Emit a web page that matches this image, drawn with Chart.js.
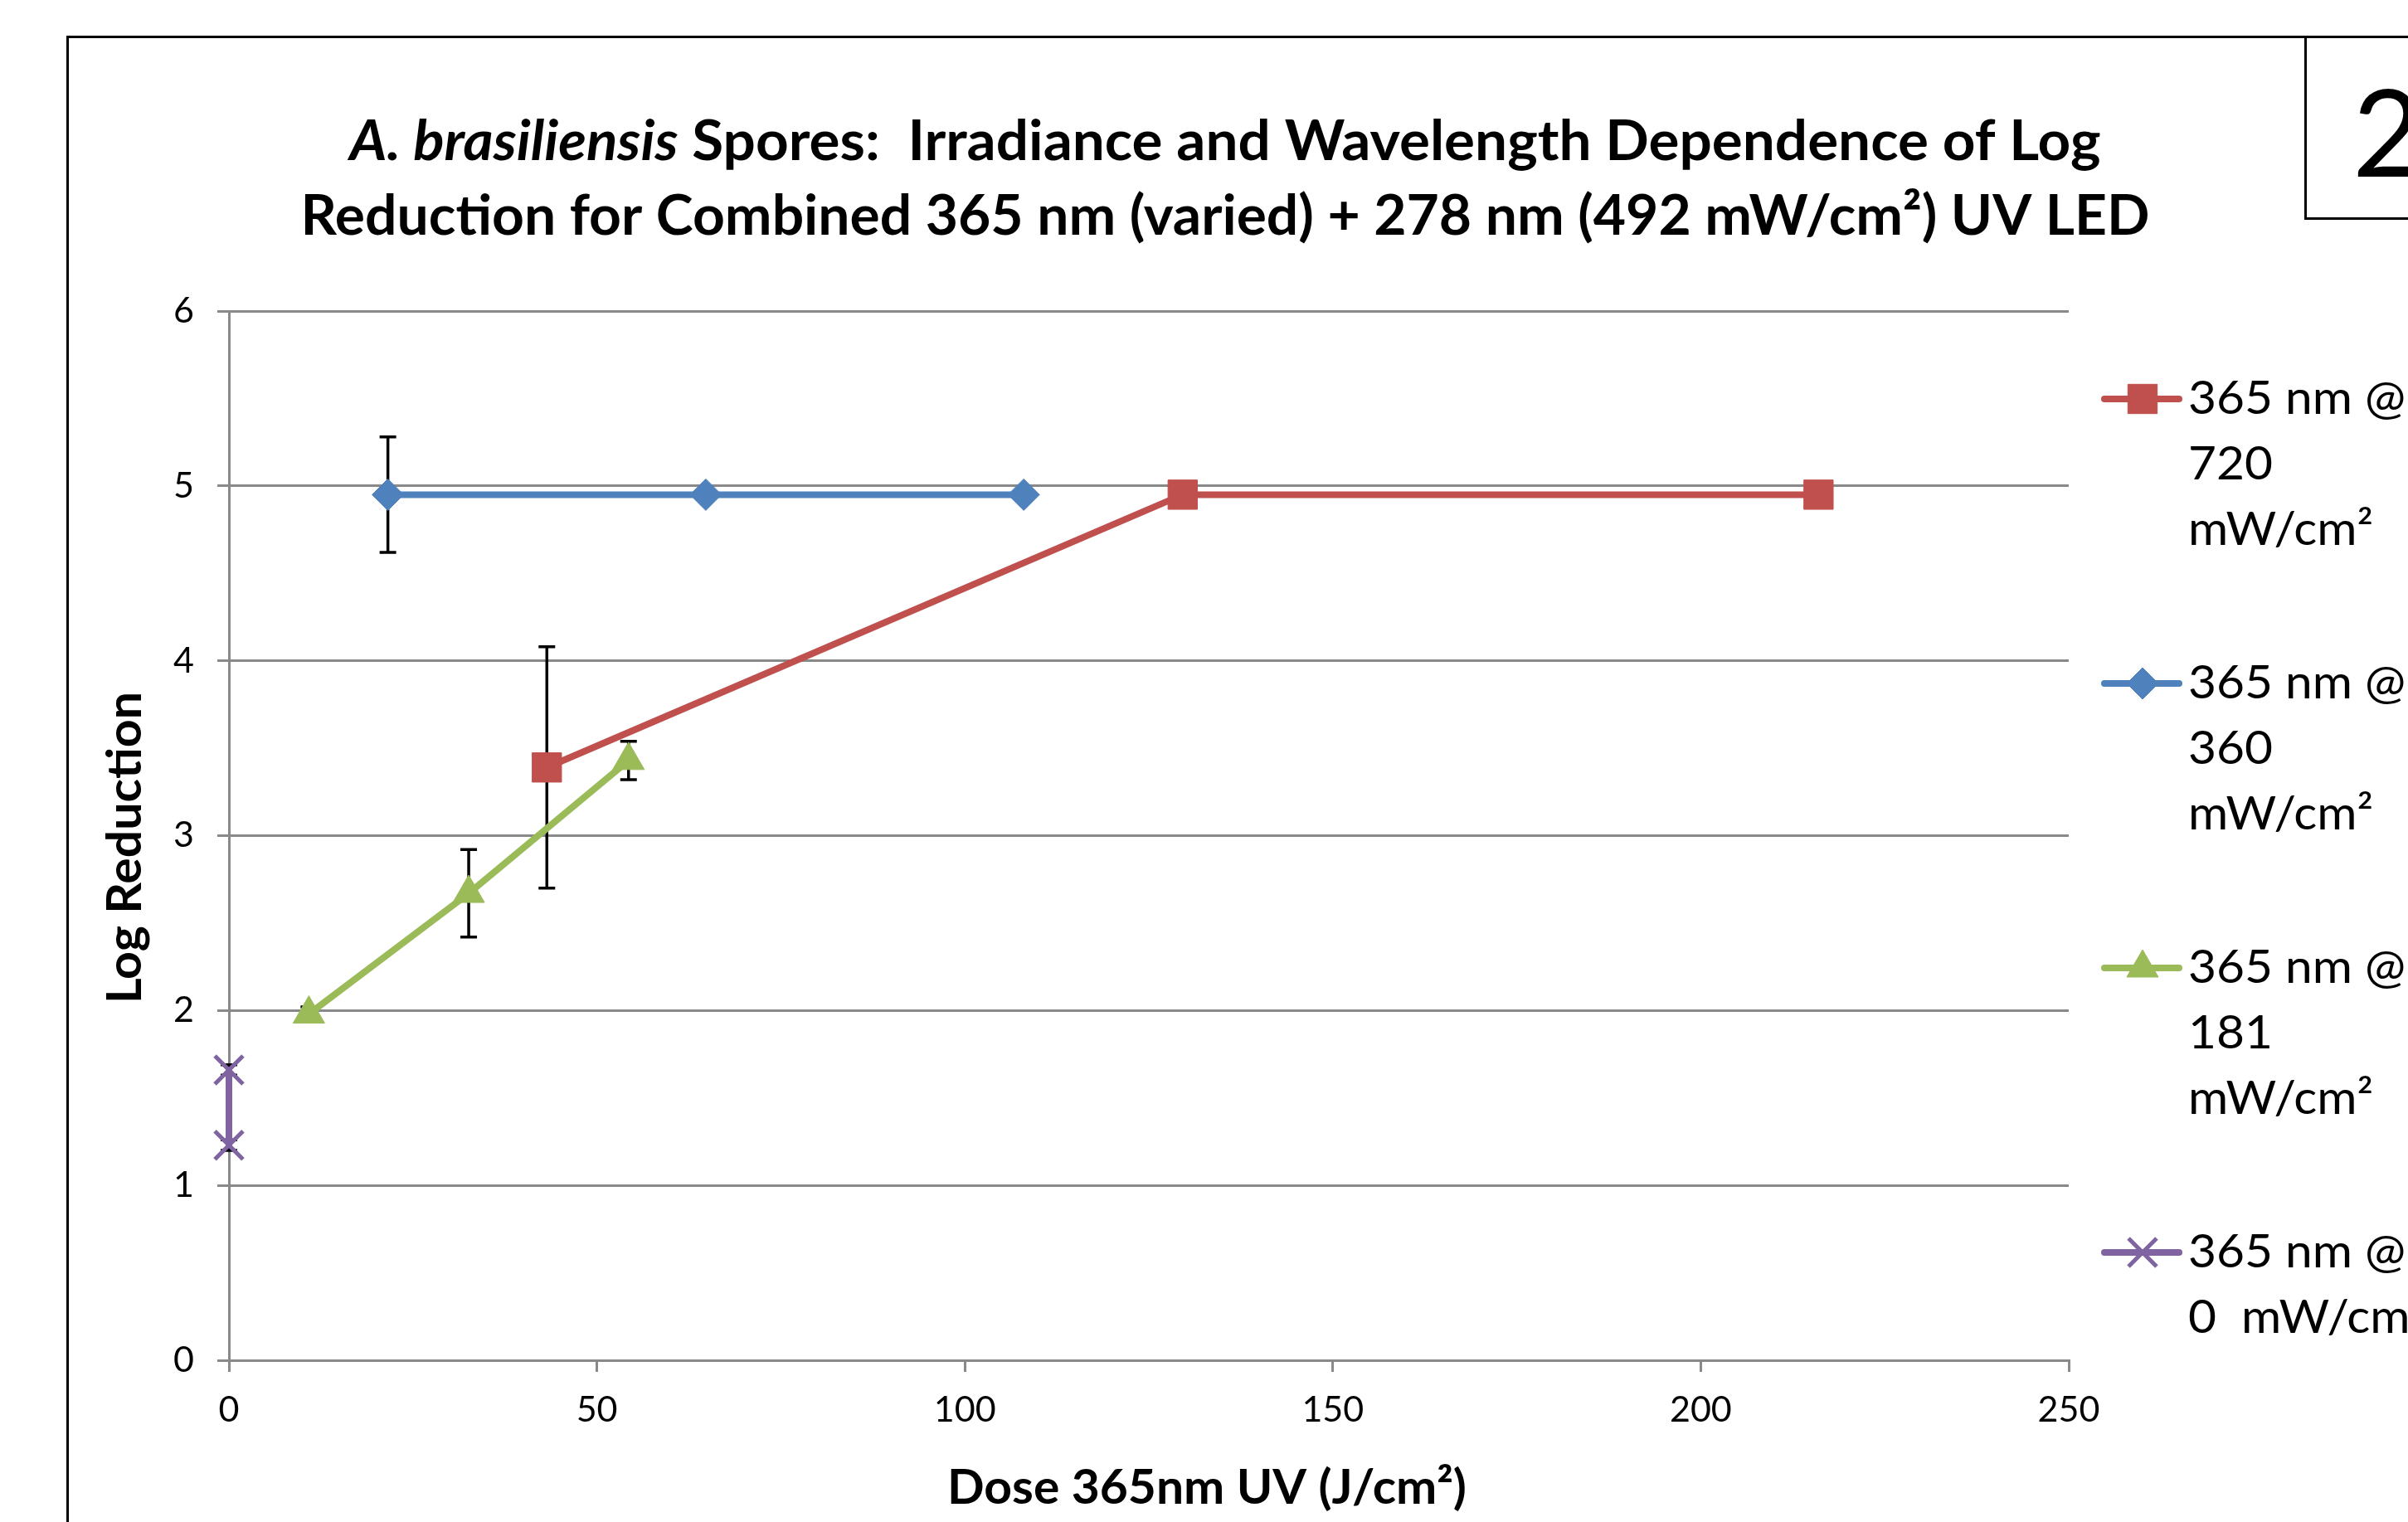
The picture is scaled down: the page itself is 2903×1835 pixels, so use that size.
<!DOCTYPE html>
<html>
<head>
<meta charset="utf-8">
<script src="https://cdn.jsdelivr.net/npm/chart.js@4.4.1/dist/chart.umd.min.js"></script>
<style>
  html, body { margin:0; padding:0; background:#fff; overflow:hidden; }
  canvas { display:block; }
</style>
</head>
<body>
<canvas id="chart" width="2903" height="1835"></canvas>
<script>
// data (dose J/cm2, log reduction, +/- error)
const seriesNames = ["365 nm @ 720 mW/cm²", "365 nm @ 360 mW/cm²", "365 nm @ 181 mW/cm²", "365 nm @ 0 mW/cm²"];
const legendLines = [
  ["365 nm @", "720", "mW/cm²"],
  ["365 nm @", "360", "mW/cm²"],
  ["365 nm @", "181", "mW/cm²"],
  ["365 nm @", "0  mW/cm²"]
];
const doseRed = [43.2, 129.6, 216];
const logRed = [3.39, 4.95, 4.95];
const errRed = [0.69, 0, 0];
const doseBlue = [21.6, 64.8, 108];
const logBlue = [4.95, 4.95, 4.95];
const errBlue = [0.33, 0, 0];
const doseGreen = [10.86, 32.58, 54.3];
const logGreen = [1.98, 2.67, 3.43];
const errGreen = [0.04, 0.25, 0.11];
const dosePurple = [0, 0];
const logPurple = [1.66, 1.23];
const errPurple = [0.03, 0.03];
const xTicks = [0, 50, 100, 150, 200, 250];
const yTicks = [0, 1, 2, 3, 4, 5, 6];

const colors = ["#C0504D", "#4F81BD", "#9BBB59", "#8064A2"];
const styles = [
  { pointStyle: "rect", radius: 25, borderWidth: 1 },
  { pointStyle: "rectRot", radius: 19, borderWidth: 1 },
  { pointStyle: "triangle", radius: 22, borderWidth: 1 },
  { pointStyle: "crossRot", radius: 24, borderWidth: 5 }
];
const GRID = "#898989";

const pts = (xs, ys) => xs.map((x, i) => ({ x: x, y: ys[i] }));

function makeSet(i, xs, ys, errs) {
  return {
    label: seriesNames[i],
    data: pts(xs, ys),
    errs: errs,
    showLine: true,
    borderColor: colors[i],
    backgroundColor: colors[i],
    borderWidth: 8,
    pointStyle: styles[i].pointStyle,
    pointRadius: styles[i].radius,
    pointHoverRadius: styles[i].radius,
    pointBorderWidth: styles[i].borderWidth,
    pointBackgroundColor: colors[i],
    pointBorderColor: colors[i],
    clip: false
  };
}

// draw text squeezed/stretched to a target width (Calibri stand-in)
function fitText(ctx, parts, cx, base, targetW) {
  let total = 0;
  parts.forEach(p => { ctx.font = p.font; p.w = ctx.measureText(p.text).width; total += p.w; });
  const s = targetW / total;
  ctx.save();
  ctx.translate(cx, base);
  ctx.scale(s, 1);
  let x = -total / 2;
  ctx.textAlign = "left";
  ctx.textBaseline = "alphabetic";
  parts.forEach(p => { ctx.font = p.font; ctx.fillText(p.text, x, 0); x += p.w; });
  ctx.restore();
}

// error bars, drawn under the markers
const errorBars = {
  id: "errorBars",
  beforeDatasetsDraw(chart) {
    const ctx = chart.ctx, xs = chart.scales.x, ys = chart.scales.y;
    ctx.save();
    ctx.strokeStyle = "#000";
    ctx.lineWidth = 3.5;
    chart.data.datasets.forEach(ds => {
      ds.data.forEach((p, j) => {
        const e = ds.errs[j];
        if (!e) return;
        const px = xs.getPixelForValue(p.x);
        const t = ys.getPixelForValue(p.y + e), b = ys.getPixelForValue(p.y - e);
        ctx.beginPath();
        ctx.moveTo(px, t); ctx.lineTo(px, b);
        ctx.moveTo(px - 10, t); ctx.lineTo(px + 10, t);
        ctx.moveTo(px - 10, b); ctx.lineTo(px + 10, b);
        ctx.stroke();
      });
    });
    ctx.restore();
  }
};

// frame, titles, legend
const decor = {
  id: "decor",
  beforeDraw(chart) {
    const ctx = chart.ctx;
    ctx.save();
    ctx.fillStyle = "#fff";
    ctx.fillRect(0, 0, chart.width, chart.height);
    ctx.restore();
  },
  afterDraw(chart) {
    const ctx = chart.ctx;
    ctx.save();
    ctx.strokeStyle = "#000";
    ctx.lineWidth = 3;
    ctx.beginPath();
    ctx.moveTo(80, 44.5); ctx.lineTo(2903, 44.5);
    ctx.moveTo(81.5, 43); ctx.lineTo(81.5, 1835);
    ctx.moveTo(2779.5, 44); ctx.lineTo(2779.5, 263.5);
    ctx.lineTo(2903, 263.5);
    ctx.stroke();

    ctx.fillStyle = "#000";
    ctx.font = "146px Lato";
    ctx.textAlign = "left";
    ctx.textBaseline = "alphabetic";
    ctx.fillText("2", 2836, 213);

    // chart title
    fitText(ctx, [
      { text: "A. brasiliensis", font: "italic bold 67px Lato" },
      { text: " Spores:  Irradiance and Wavelength Dependence of Log", font: "bold 67px Lato" }
    ], 1477, 193, 2111);
    fitText(ctx, [
      { text: "Reduction for Combined 365 nm (varied) + 278 nm (492 mW/cm²) UV LED", font: "bold 67px Lato" }
    ], 1477, 283, 2229);

    // axis titles
    fitText(ctx, [{ text: "Dose 365nm UV (J/cm²)", font: "bold 58px Lato" }], 1455, 1813, 626);
    ctx.save();
    ctx.translate(170, 1022);
    ctx.rotate(-Math.PI / 2);
    fitText(ctx, [{ text: "Log Reduction", font: "bold 58px Lato" }], 0, 0, 376);
    ctx.restore();

    // legend
    chart.data.datasets.forEach((ds, i) => {
      const yc = 481 + i * 343;
      ctx.strokeStyle = colors[i];
      ctx.lineWidth = 8;
      ctx.lineCap = "round";
      ctx.beginPath();
      ctx.moveTo(2537, yc); ctx.lineTo(2627, yc);
      ctx.stroke();
      ctx.lineCap = "butt";
      ctx.fillStyle = colors[i];
      ctx.strokeStyle = colors[i];
      ctx.lineWidth = styles[i].borderWidth;
      Chart.helpers.drawPoint(ctx, { pointStyle: styles[i].pointStyle, radius: styles[i].radius, borderWidth: styles[i].borderWidth, rotation: 0 }, 2583, yc);
      ctx.fillStyle = "#000";
      ctx.font = "56px Lato";
      const s = 262 / ctx.measureText("365 nm @").width;
      legendLines[i].forEach((t, k) => {
        ctx.save();
        ctx.translate(2638, yc + 18 + k * 79);
        ctx.scale(s, 1);
        ctx.fillText(t, 0, 0);
        ctx.restore();
      });
    });
    ctx.restore();
  }
};

new Chart(document.getElementById("chart"), {
  type: "scatter",
  data: {
    datasets: [
      makeSet(0, doseRed, logRed, errRed),
      makeSet(1, doseBlue, logBlue, errBlue),
      makeSet(2, doseGreen, logGreen, errGreen),
      makeSet(3, dosePurple, logPurple, errPurple)
    ]
  },
  options: {
    responsive: false,
    animation: false,
    devicePixelRatio: 1,
    layout: { padding: { top: 375, right: 409, left: 0, bottom: 0 } },
    plugins: { legend: { display: false }, tooltip: { enabled: false } },
    scales: {
      x: {
        type: "linear", min: 0, max: 250,
        afterBuildTicks: s => { s.ticks = xTicks.map(v => ({ value: v })); },
        afterFit: s => { s.height = 195; },
        grid: { drawOnChartArea: false, drawTicks: true, tickLength: 14, color: GRID, lineWidth: 3 },
        border: { display: true, color: GRID, width: 3 },
        ticks: { font: { family: "Lato", size: 43 }, color: "#000", padding: 20, maxRotation: 0 }
      },
      y: {
        min: 0, max: 6,
        afterBuildTicks: s => { s.ticks = yTicks.map(v => ({ value: v })); },
        afterFit: s => { s.width = 276; },
        grid: { color: GRID, lineWidth: 3, tickLength: 14 },
        border: { display: true, color: GRID, width: 3 },
        ticks: { font: { family: "Lato", size: 43 }, color: "#000", padding: 28 }
      }
    }
  },
  plugins: [errorBars, decor]
});
</script>
</body>
</html>
